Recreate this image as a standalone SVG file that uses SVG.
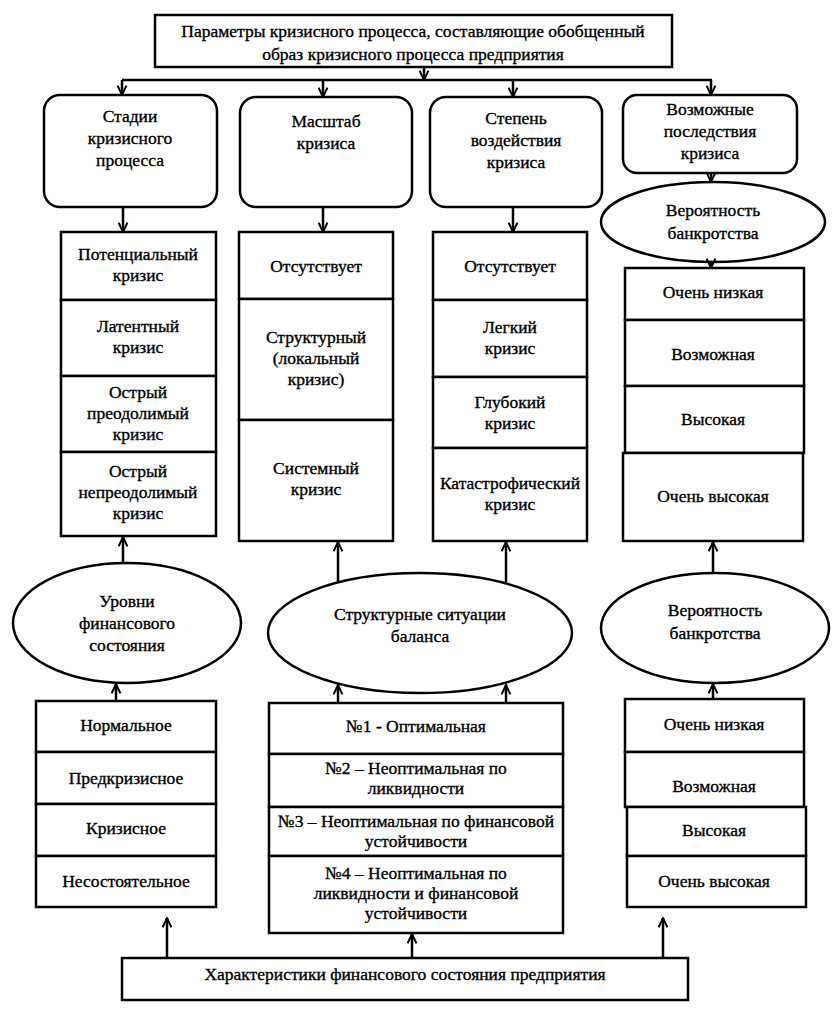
<svg xmlns="http://www.w3.org/2000/svg" width="837" height="1017" viewBox="0 0 837 1017">
<style>
.b{fill:#fff;stroke:#000;stroke-width:2.5}
.e{fill:#fff;stroke:#000;stroke-width:2.5}
.l{fill:none;stroke:#000;stroke-width:2.5}
text{font-family:'Liberation Serif','DejaVu Serif','Times New Roman',serif;font-size:17.5px;fill:#000;text-anchor:middle;stroke:#000;stroke-width:0.35}
</style>
<defs>
<marker id="a" viewBox="0 0 10 10" refX="9.5" refY="5" markerWidth="11" markerHeight="11" markerUnits="userSpaceOnUse" orient="auto">
<path d="M1,1 L9.5,5 L1,9" fill="none" stroke="#000" stroke-width="1.8"/>
</marker>
</defs>
<rect width="837" height="1017" fill="#fff"/>

<g id="top">
<rect class="b" x="155" y="15" width="517" height="52"/>
<text x="413" y="37">Параметры кризисного процесса, составляющие обобщенный</text>
<text x="413" y="60">образ кризисного процесса предприятия</text>
</g>

<g id="stages">
<rect class="b" x="44" y="95" width="173" height="112" rx="16"/>
<text x="130" y="122">Стадии</text>
<text x="130" y="144">кризисного</text>
<text x="130" y="166">процесса</text>
</g>
<g id="scale">
<rect class="b" x="240" y="97" width="172" height="110" rx="16"/>
<text x="326" y="127">Масштаб</text>
<text x="326" y="149">кризиса</text>
</g>
<g id="degree">
<rect class="b" x="430" y="97" width="172" height="110" rx="16"/>
<text x="516" y="124">Степень</text>
<text x="516" y="146">воздействия</text>
<text x="516" y="168">кризиса</text>
</g>
<g id="consequences">
<rect class="b" x="623" y="95" width="174" height="78" rx="14"/>
<text x="710" y="115">Возможные</text>
<text x="710" y="137">последствия</text>
<text x="710" y="159">кризиса</text>
</g>
<g id="prob-top">
<ellipse class="e" cx="713" cy="222" rx="112" ry="40"/>
<text x="713" y="216">Вероятность</text>
<text x="713" y="239">банкротства</text>
</g>

<g id="stages-list">
<rect class="b" x="61" y="232" width="155" height="68"/>
<rect class="b" x="61" y="300" width="155" height="76"/>
<rect class="b" x="61" y="376" width="155" height="76"/>
<rect class="b" x="61" y="452" width="155" height="84"/>
<text x="138" y="260">Потенциальный</text>
<text x="138" y="281">кризис</text>
<text x="138" y="332">Латентный</text>
<text x="138" y="353">кризис</text>
<text x="138" y="398">Острый</text>
<text x="138" y="419">преодолимый</text>
<text x="138" y="440">кризис</text>
<text x="138" y="477">Острый</text>
<text x="138" y="498">непреодолимый</text>
<text x="138" y="519">кризис</text>
</g>

<g id="scale-list">
<rect class="b" x="239" y="232" width="154" height="67"/>
<rect class="b" x="239" y="299" width="154" height="121"/>
<rect class="b" x="239" y="420" width="154" height="121"/>
<text x="316" y="272">Отсутствует</text>
<text x="316" y="343">Структурный</text>
<text x="316" y="364">(локальный</text>
<text x="316" y="385">кризис)</text>
<text x="316" y="474">Системный</text>
<text x="316" y="495">кризис</text>
</g>

<g id="degree-list">
<rect class="b" x="433" y="232" width="154" height="68"/>
<rect class="b" x="433" y="300" width="154" height="77"/>
<rect class="b" x="433" y="377" width="154" height="71"/>
<rect class="b" x="433" y="448" width="154" height="93"/>
<text x="510" y="272">Отсутствует</text>
<text x="510" y="333">Легкий</text>
<text x="510" y="354">кризис</text>
<text x="510" y="408">Глубокий</text>
<text x="510" y="429">кризис</text>
<text x="510" y="489">Катастрофический</text>
<text x="510" y="510">кризис</text>
</g>

<g id="prob-list-top">
<rect class="b" x="625" y="268" width="179" height="52"/>
<rect class="b" x="625" y="320" width="179" height="66"/>
<rect class="b" x="625" y="386" width="179" height="67"/>
<rect class="b" x="623" y="453" width="180" height="88"/>
<text x="713" y="298">Очень низкая</text>
<text x="713" y="360">Возможная</text>
<text x="713" y="425">Высокая</text>
<text x="713" y="502">Очень высокая</text>
</g>

<g id="levels">
<ellipse class="e" cx="127" cy="623" rx="114" ry="60"/>
<text x="127" y="607">Уровни</text>
<text x="127" y="629">финансового</text>
<text x="127" y="651">состояния</text>
</g>
<g id="structural">
<ellipse class="e" cx="420" cy="633" rx="152" ry="60"/>
<text x="420" y="620">Структурные ситуации</text>
<text x="420" y="642">баланса</text>
</g>
<g id="prob-mid">
<ellipse class="e" cx="715" cy="628" rx="114" ry="55"/>
<text x="715" y="616">Вероятность</text>
<text x="715" y="639">банкротства</text>
</g>

<g id="levels-list">
<rect class="b" x="36" y="701" width="180" height="51"/>
<rect class="b" x="36" y="752" width="180" height="52"/>
<rect class="b" x="36" y="804" width="180" height="52"/>
<rect class="b" x="36" y="856" width="180" height="51"/>
<text x="126" y="731">Нормальное</text>
<text x="126" y="784">Предкризисное</text>
<text x="126" y="834">Кризисное</text>
<text x="126" y="887">Несостоятельное</text>
</g>

<g id="situations-list">
<rect class="b" x="269" y="703" width="294" height="51"/>
<rect class="b" x="269" y="754" width="294" height="53"/>
<rect class="b" x="269" y="807" width="294" height="49"/>
<rect class="b" x="269" y="856" width="294" height="77"/>
<text x="416" y="732">№1 - Оптимальная</text>
<text x="416" y="774">№2 – Неоптимальная по</text>
<text x="416" y="794">ликвидности</text>
<text x="416" y="827">№3 – Неоптимальная по финансовой</text>
<text x="416" y="847">устойчивости</text>
<text x="416" y="879">№4 – Неоптимальная по</text>
<text x="416" y="899">ликвидности и финансовой</text>
<text x="416" y="919">устойчивости</text>
</g>

<g id="prob-list-bottom">
<rect class="b" x="625" y="699" width="179" height="53"/>
<rect class="b" x="625" y="752" width="179" height="55"/>
<rect class="b" x="627" y="807" width="179" height="49"/>
<rect class="b" x="627" y="856" width="179" height="51"/>
<text x="714" y="730">Очень низкая</text>
<text x="714" y="792">Возможная</text>
<text x="714" y="836">Высокая</text>
<text x="714" y="887">Очень высокая</text>
</g>

<g id="characteristics">
<rect class="b" x="122" y="958" width="566" height="42"/>
<text x="405" y="980">Характеристики финансового состояния предприятия</text>
</g>

<g id="connectors" class="l">
<line x1="424" y1="67" x2="424" y2="80" marker-end="url(#a)"/>
<line x1="122" y1="80" x2="712" y2="80"/>
<line x1="122" y1="80" x2="122" y2="95" marker-end="url(#a)"/>
<line x1="323" y1="80" x2="323" y2="97" marker-end="url(#a)"/>
<line x1="513" y1="80" x2="513" y2="97" marker-end="url(#a)"/>
<line x1="711" y1="80" x2="711" y2="95" marker-end="url(#a)"/>
<line x1="123" y1="207" x2="123" y2="232" marker-end="url(#a)"/>
<line x1="323" y1="207" x2="323" y2="232" marker-end="url(#a)"/>
<line x1="513" y1="207" x2="513" y2="232" marker-end="url(#a)"/>
<line x1="711" y1="173" x2="711" y2="182" marker-end="url(#a)"/>
<line x1="711" y1="262" x2="711" y2="268" marker-end="url(#a)"/>
<line x1="123" y1="563" x2="123" y2="537" marker-end="url(#a)"/>
<line x1="338" y1="582" x2="338" y2="542" marker-end="url(#a)"/>
<line x1="506" y1="582" x2="506" y2="542" marker-end="url(#a)"/>
<line x1="713" y1="573" x2="713" y2="542" marker-end="url(#a)"/>
<line x1="116" y1="701" x2="116" y2="684" marker-end="url(#a)"/>
<line x1="338" y1="703" x2="338" y2="685" marker-end="url(#a)"/>
<line x1="506" y1="703" x2="506" y2="685" marker-end="url(#a)"/>
<line x1="713" y1="699" x2="713" y2="684" marker-end="url(#a)"/>
<line x1="167" y1="958" x2="167" y2="918" marker-end="url(#a)"/>
<line x1="412" y1="958" x2="412" y2="934" marker-end="url(#a)"/>
<line x1="663" y1="958" x2="663" y2="918" marker-end="url(#a)"/>
</g>
</svg>
